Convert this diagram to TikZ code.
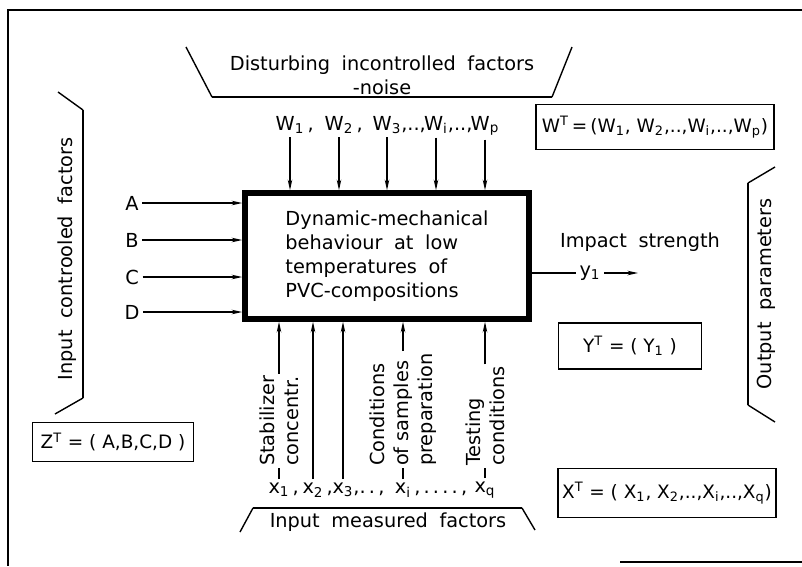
\documentclass[tikz,border=0pt]{standalone}
\usepackage{fontspec}
\setmainfont{DejaVu Sans}
\usetikzlibrary{arrows.meta}

\begin{document}
\begin{tikzpicture}[
    x=0.02cm, y=-0.02cm,
    every node/.style={font=\fontsize{11pt}{13.6pt}\selectfont},
    words/.style={execute at begin node={\spaceskip=0.6em\relax}},
    sysbox/.style={draw, line width=3.2pt, minimum width=5.68cm, minimum height=2.52cm, align=left, words},
    vecbox/.style={draw, line width=1.1pt, inner sep=2pt, font=\fontsize{10.5pt}{12pt}\selectfont},
    lbl/.style={inner sep=2pt},
    vlbl/.style={rotate=90, anchor=west, align=left, inner sep=1pt},
    arr/.style={-{Stealth[length=6pt,width=2.6pt]}, line width=0.8pt},
    stub/.style={line width=0.8pt},
    brk/.style={line width=1.6pt},
    slant/.style={line width=0.8pt}
]
\useasboundingbox (0,0) rectangle (802,566);
% frame
\draw[stub] (802,10) -- (8,10) -- (8,566);
\draw[stub] (620,562) -- (802,562);

% object
\node[sysbox] (sys) at (387,256) {Dynamic-mechanical\\behaviour at low\\temperatures of\\PVC-compositions};

% noise
\draw[slant] (186,47) -- (212,97);
\draw[brk] (212,97) -- (552,97);
\draw[slant] (552,97) -- (572,47);
\node[align=center, words] (noise) at (382,75) {Disturbing incontrolled factors\\-noise};
\node[lbl, anchor=base] (w1) at (290,130) {W\textsubscript{1}\rlap{\,,}};
\node[lbl, anchor=base] (w2) at (339,130) {W\textsubscript{2}\rlap{\,,}};
\node[lbl, anchor=base] (w3) at (387,130) {W\textsubscript{3}\rlap{,..,}};
\node[lbl, anchor=base] (wi) at (436,130) {W\textsubscript{i}\rlap{,..,}};
\node[lbl, anchor=base] (wp) at (485,130) {W\textsubscript{p}};
\foreach \w in {w1,w2,w3,wi,wp}
  \draw[arr] (\w.south) -- (\w.south |- sys.north);
\node[vecbox, minimum width=4.76cm, minimum height=0.9cm] (wvec) at (655,127)
  {W\textsuperscript{T}\,=\,(W\textsubscript{1}, W\textsubscript{2},..,W\textsubscript{i},..,W\textsubscript{p})};

% controlled
\draw[slant] (58,92) -- (83,110);
\draw[brk] (83,110) -- (83,398);
\draw[slant] (83,398) -- (55,414);
\node[rotate=90, words] (ctrl) at (67,259) {Input controoled factors};
\foreach \n/\t/\y in {a/A/203, b/B/240, c/C/277, d/D/312} {
  \node[lbl] (\n) at (132,\y) {\t};
  \draw[arr] (\n.east) -- (\n.east -| sys.west);
}
\node[vecbox, minimum width=3.22cm, minimum height=0.78cm] (zvec) at (113,442)
  {Z\textsuperscript{T} = ( A,B,C,D )};

% output
\node[words] (imp) at (640,242) {Impact strength};
\node[lbl] (y1) at (590,273) {y\textsubscript{1}};
\coordinate (yout) at (638,273);
\draw[stub] (sys.east |- y1) -- (y1.west);
\draw[arr] (y1.east) -- (yout);
\node[vecbox, minimum width=2.86cm, minimum height=0.92cm] (yvec) at (630,346)
  {Y\textsuperscript{T} = ( Y\textsubscript{1} )};
\draw[slant] (775,167) -- (748,183);
\draw[brk] (748,183) -- (748,405);
\draw[slant] (748,405) -- (775,422);
\node[rotate=90, words] (outp) at (766,294) {Output parameters};

% measured
\node[vlbl] (stab) at (279,468) {Stabilizer\\concentr.};
\node[vlbl] (cond) at (403,468) {Conditions\\of samples\\preparation};
\node[vlbl] (test) at (485,468) {Testing\\conditions};
\foreach \n in {stab,cond,test}
  \draw[arr] (\n.east) -- (\n.east |- sys.south);
\node[lbl] (x1) at (279,490) {x\textsubscript{1}\rlap{\,,}};
\node[lbl] (x2) at (313,490) {x\textsubscript{2}\rlap{\,,}};
\node[lbl] (x3) at (343,490) {x\textsubscript{3}\rlap{,.\,.\,,}};
\node[lbl] (xi) at (403,490) {x\textsubscript{i}\rlap{\,,\,.\,.\,.\,.\,,}};
\node[lbl] (xq) at (485,490) {x\textsubscript{q}};
\draw[stub] (x1.north) -- (x1.north |- stab.west);
\draw[stub] (xi.north) -- (xi.north |- cond.west);
\draw[stub] (xq.north) -- (xq.north |- test.west);
\draw[arr] (x2.north) -- (x2.north |- sys.south);
\draw[arr] (x3.north) -- (x3.north |- sys.south);
\draw[slant] (240,532) -- (253,508);
\draw[brk] (253,508) -- (522,508);
\draw[slant] (522,508) -- (535,530);
\node[words] (meas) at (388,522) {Input measured factors};
\node[vecbox, minimum width=4.36cm, minimum height=0.98cm] (xvec) at (667,493)
  {X\textsuperscript{T} = ( X\textsubscript{1}, X\textsubscript{2},..,X\textsubscript{i},..,X\textsubscript{q})};
\end{tikzpicture}
\end{document}
